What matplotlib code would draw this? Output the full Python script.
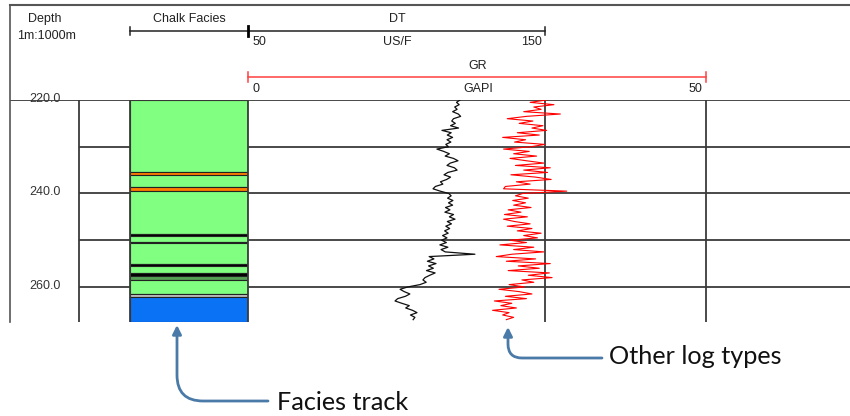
import matplotlib.pyplot as plt
from matplotlib.patches import FancyArrowPatch

# figure size in pixels, everything below is laid out in these units
FIG_W, FIG_H = 850, 416

# depth sampling of the logs (m)
depth = [
    220.0, 220.5, 221.0, 221.5, 222.0, 222.5, 223.0, 223.5, 224.0, 224.5,
    225.0, 225.5, 226.0, 226.5, 227.0, 227.5, 228.0, 228.5, 229.0, 229.5,
    230.0, 230.5, 231.0, 231.5, 232.0, 232.5, 233.0, 233.5, 234.0, 234.5,
    235.0, 235.5, 236.0, 236.5, 237.0, 237.5, 238.0, 238.5, 239.0, 239.5,
    240.0, 240.5, 241.0, 241.5, 242.0, 242.5, 243.0, 243.5, 244.0, 244.5,
    245.0, 245.5, 246.0, 246.5, 247.0, 247.5, 248.0, 248.5, 249.0, 249.5,
    250.0, 250.5, 251.0, 251.5, 252.0, 252.5, 253.0, 253.5, 254.0, 254.5,
    255.0, 255.5, 256.0, 256.5, 257.0, 257.5, 258.0, 258.5, 259.0, 259.5,
    260.0, 260.5, 261.0, 261.5, 262.0, 262.5, 263.0, 263.5, 264.0, 264.5,
    265.0, 265.5, 266.0, 266.5, 267.0,
]

# sonic log DT (US/F)
dt_values = [
    121.4, 120.2, 121.1, 119.6, 120.4, 118.9, 120.8, 121.6, 119.2, 118.6,
    119.8, 118.2, 120.9, 115.3, 118.4, 117.1, 118.9, 117.0, 118.3, 116.6,
    117.5, 113.6, 115.9, 117.8, 116.4, 119.2, 120.7, 118.1, 117.0, 119.5,
    120.4, 117.3, 116.0, 118.2, 116.9, 114.8, 115.6, 113.1, 112.3, 114.7,
    117.6, 118.4, 117.2, 119.0, 117.5, 118.9, 116.5, 118.0, 116.3, 119.2,
    117.8, 119.7, 117.1, 118.5, 116.6, 117.9, 116.2, 117.4, 115.5, 117.0,
    115.2, 116.8, 114.6, 117.3, 115.0, 116.4, 126.4, 111.0, 112.6, 110.4,
    113.3, 110.8, 112.4, 110.1, 113.0, 111.2, 109.6, 108.9, 110.0, 107.9,
    103.8, 101.2, 102.6, 104.5, 103.0, 100.4, 99.5, 101.8, 104.3, 103.1,
    105.4, 106.9, 104.7, 106.2, 105.6,
]

# gamma ray log GR (GAPI)
gr_values = [
    32.6, 30.8, 33.4, 31.2, 32.0, 30.1, 34.1, 30.4, 28.3, 31.1,
    29.6, 32.2, 31.0, 32.6, 29.4, 31.8, 27.8, 30.3, 29.1, 32.4,
    30.9, 27.9, 30.7, 29.0, 31.5, 28.6, 30.4, 32.3, 29.2, 33.0,
    30.1, 32.7, 28.7, 31.4, 33.1, 29.3, 30.8, 28.1, 27.9, 34.8,
    30.0, 29.2, 30.6, 28.9, 30.3, 29.0, 30.9, 28.4, 29.8, 28.0,
    30.5, 27.9, 29.1, 30.8, 28.3, 31.0, 29.4, 32.0, 30.1, 31.6,
    28.6, 30.4, 27.5, 31.2, 29.0, 32.3, 28.8, 27.1, 31.4, 28.2,
    33.0, 29.5, 31.8, 28.4, 32.9, 30.6, 33.2, 29.9, 31.2, 28.5,
    30.2, 27.4, 29.6, 31.0, 28.1, 30.4, 26.9, 28.8, 27.6, 29.3,
    26.7, 28.5, 27.8, 29.0, 28.2,
]

# chalk facies intervals (top, base in m) and their colours
facies_top = [220.0, 235.3, 236.0, 238.6, 239.5, 248.6, 249.1, 250.3,
              250.5, 255.0, 255.5, 257.1, 257.6, 258.6, 261.5, 262.2]
facies_base = [235.3, 236.0, 238.6, 239.5, 248.6, 249.1, 250.3, 250.5,
               255.0, 255.5, 257.1, 257.6, 258.6, 261.5, 262.2, 267.5]
facies_color = ["#80ff80", "#ff8000", "#80ff80", "#ff8000", "#80ff80",
                "#000000", "#80ff80", "#000000", "#80ff80", "#000000",
                "#80ff80", "#000000", "#55a055", "#80ff80", "#c0c0c0",
                "#0a72f5"]

depth_ticks = [220, 240, 260]
depth_labels = ["220.0", "240.0", "260.0"]
grid_depths = [230, 240, 250, 260]

DEPTH_TOP, DEPTH_BASE = 220.0, 267.5
TRACK_Y0, TRACK_Y1 = 100, 322
ARROW_COLOR = "#4a7aa7"
HEAD_FONT = "Liberation Sans"
HEAD_SIZE = 9


def px_axes(fig, x0, x1, y0=TRACK_Y0, y1=TRACK_Y1):
    """Add an axes placed by pixel edges (origin top left)."""
    ax = fig.add_axes([x0 / FIG_W, 1 - y1 / FIG_H,
                       (x1 - x0) / FIG_W, (y1 - y0) / FIG_H])
    ax.set_facecolor("none")
    ax.set_axis_off()
    return ax


def draw_header(ov):
    """Track headers: titles, scale bars and units."""
    kw = dict(fontsize=HEAD_SIZE, family=HEAD_FONT, color="#222222")
    ov.text(45, 19, "Depth", ha="center", va="center", **kw)
    ov.text(47, 36, "1m:1000m", ha="center", va="center", **kw)
    ov.text(189, 19, "Chalk Facies", ha="center", va="center", **kw)
    ov.text(397, 19, "DT", ha="center", va="center", **kw)
    ov.text(397, 42, "US/F", ha="center", va="center", **kw)
    ov.text(253, 42, "50", ha="left", va="center", **kw)
    ov.text(542, 42, "150", ha="right", va="center", **kw)
    ov.text(478, 66, "GR", ha="center", va="center", **kw)
    ov.text(478, 89, "GAPI", ha="center", va="center", **kw)
    ov.text(253, 89, "0", ha="left", va="center", **kw)
    ov.text(702, 89, "50", ha="right", va="center", **kw)

    # scale bars
    ov.plot([130, 545], [31, 31], color="#222222", lw=1.1)
    ov.plot([130, 130], [27, 35], color="#222222", lw=1.1)
    ov.plot([248, 248], [26, 36], color="#000000", lw=2.0)
    ov.plot([545, 545], [27, 35], color="#222222", lw=1.1)
    ov.plot([248, 706], [77, 77], color="#ff4040", lw=1.1)
    ov.plot([248, 248], [72, 82], color="#ff4040", lw=1.1)
    ov.plot([706, 706], [72, 82], color="#ff4040", lw=1.1)

    # frame
    ov.plot([10, 850], [5, 5], color="#555555", lw=1.5)
    ov.plot([10, 10], [5, 322], color="#555555", lw=1.2)


def draw_annotations(ov):
    """Callout arrows and their labels."""
    kw = dict(fontsize=18.2, family="Lato", color="#111111", va="center")
    ov.text(277, 402, "Facies track", ha="left", **kw)
    ov.text(609, 357, "Other log types", ha="left", **kw)
    for pos_a, pos_b, rad in [((268, 401), (177, 325), 26),
                              ((602, 358), (508, 327), 14)]:
        arrow = FancyArrowPatch(
            pos_a, pos_b, arrowstyle="-|>", mutation_scale=13,
            connectionstyle=f"angle,angleA=0,angleB=90,rad={rad}",
            color=ARROW_COLOR, lw=2.0, shrinkA=0, shrinkB=0)
        ov.add_patch(arrow)


def main():
    fig = plt.figure(figsize=(FIG_W / 100, FIG_H / 100), dpi=100)

    # facies track
    ax_fac = px_axes(fig, 130, 248)
    ax_fac.set_xlim(0, 1)
    ax_fac.set_ylim(DEPTH_BASE, DEPTH_TOP)
    for top, base, col in zip(facies_top, facies_base, facies_color):
        ax_fac.barh((top + base) / 2, 1, height=base - top, left=0,
                    color=col, edgecolor="#222222", linewidth=0.8)

    # grid of tracks
    ax_grid = px_axes(fig, 10, 850)
    ax_grid.set_xlim(10, 850)
    ax_grid.set_ylim(DEPTH_BASE, DEPTH_TOP)
    ax_grid.hlines(DEPTH_TOP, 10, 850, color="#3a3a3a", lw=1.3)
    ax_grid.hlines(grid_depths, 79, 130, color="#3a3a3a", lw=1.3)
    ax_grid.hlines(grid_depths, 248, 850, color="#3a3a3a", lw=1.3)
    ax_grid.vlines([79, 130, 248, 545, 706], DEPTH_TOP, DEPTH_BASE,
                   color="#3a3a3a", lw=1.3)
    for d, lab in zip(depth_ticks, depth_labels):
        ax_grid.text(45, d - 0.3, lab, ha="center", va="center",
                     fontsize=HEAD_SIZE, family=HEAD_FONT, color="#333333")

    # DT curve
    ax_dt = px_axes(fig, 248, 545)
    ax_dt.set_xlim(50, 150)
    ax_dt.set_ylim(DEPTH_BASE, DEPTH_TOP)
    ax_dt.plot(dt_values, depth, color="#111111", lw=0.9)

    # GR curve
    ax_gr = px_axes(fig, 248, 706)
    ax_gr.set_xlim(0, 50)
    ax_gr.set_ylim(DEPTH_BASE, DEPTH_TOP)
    ax_gr.plot(gr_values, depth, color="#ff0000", lw=0.8)

    # overlay in pixel coordinates for header and callouts
    ov = fig.add_axes([0, 0, 1, 1])
    ov.set_xlim(0, FIG_W)
    ov.set_ylim(FIG_H, 0)
    ov.set_axis_off()
    ov.set_facecolor("none")
    draw_header(ov)
    draw_annotations(ov)

    fig.savefig("out.png", dpi=100)


if __name__ == '__main__':
    main()
